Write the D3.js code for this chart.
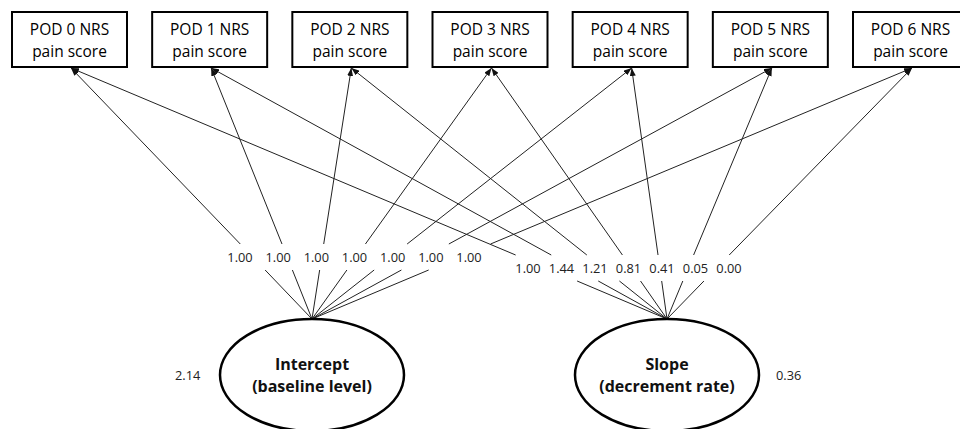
<!DOCTYPE html>
<html>
<head>
<meta charset="utf-8">
<script src="https://cdn.jsdelivr.net/npm/d3@7"></script>
<style>
	body { margin: 0; background: #fff; }
	svg { display: block; font-family: 'Open Sans', sans-serif; }
	.box { fill: #fff; stroke: #000; stroke-width: 2; }
	.obs { font-size: 15.5px; fill: #000; }
	.path { stroke: #222; stroke-width: 1; fill: none; }
	.load { font-size: 12.8px; fill: #222; }
	.lat { fill: #fff; stroke: #000; stroke-width: 2.5; }
	.latname { font-size: 16px; font-weight: bold; fill: #111; }
	.var { font-size: 12.8px; fill: #222; }
</style>
</head>
<body>
<div id="chart"></div>
<script>
'use strict';

// observed variables (top row)
const timepoints = ['POD 0', 'POD 1', 'POD 2', 'POD 3', 'POD 4', 'POD 5', 'POD 6'];
const obsLine2 = 'pain score';

// latent factors
const factors = ['Intercept', 'Slope'];
const factorSub = ['(baseline level)', '(decrement rate)'];
const factorVar = ['2.14', '0.36'];

// factor loadings per time point
const interceptLoadings = [1.00, 1.00, 1.00, 1.00, 1.00, 1.00, 1.00];
const slopeLoadings = [1.00, 1.44, 1.21, 0.81, 0.41, 0.05, 0.00];

const W = 960, H = 429;
let svg = d3.select('#chart').append('svg')
	.attr('width', W)
	.attr('height', H)
	;

svg.append('defs')
	.append('marker')
	.attr('id', 'arrowhead').attr('markerUnits', 'userSpaceOnUse')
	.attr('markerWidth', 8).attr('markerHeight', 6).attr('refX', 8).attr('refY', 3).attr('orient', 'auto')
	.append('polygon').attr('points', '0 0, 8 3, 0 6').attr('fill', '#111')
	;

let xBox = d3.scalePoint().domain(timepoints).range([71, 912]);
let boxW = 115, boxTop = 12, boxBot = 67;

let xLat = d3.scalePoint().domain(factors).range([312, 667]);
let latCy = 375, latRx = 92, latRy = 56;
let latTop = latCy - latRy;

// label rows, one for each factor
let labelY = [257, 268];
let labelX = [
	d3.scalePoint().domain(timepoints).range([240, 469]),
	d3.scalePoint().domain(timepoints).range([528, 729])
];
let loadings = [interceptLoadings, slopeLoadings];
let fmt = d3.format('.2f');

let paths = svg.append('g').classed('paths', true);
let labels = svg.append('g').classed('labels', true);

for (let f=0 ; f<factors.length ; ++f) {
	let x0 = xLat(factors[f]);
	let y0 = latTop;
	let gapLo = labelY[f] + 13;
	let gapHi = labelY[f] - 13;
	for (let i=0 ; i<timepoints.length ; ++i) {
		let x1 = xBox(timepoints[i]);
		let y1 = boxBot;
		let at = function(y) { return x0 + (x1 - x0)*(y0 - y)/(y0 - y1); };
		paths.append('line')
			.classed('path', true)
			.attr('x1', x0).attr('y1', y0)
			.attr('x2', at(gapLo)).attr('y2', gapLo)
			;
		paths.append('line')
			.classed('path', true)
			.attr('x1', at(gapHi)).attr('y1', gapHi)
			.attr('x2', x1).attr('y2', y1 + 1)
			.attr('marker-end', 'url(#arrowhead)')
			;
		labels.append('text')
			.classed('load', true)
			.attr('x', labelX[f](timepoints[i]))
			.attr('y', labelY[f] + 4.5)
			.attr('text-anchor', 'middle')
			.text(fmt(loadings[f][i]))
			;
	}
}

// observed boxes
let boxes = svg.append('g').classed('boxes', true);
for (let i=0 ; i<timepoints.length ; ++i) {
	let cx = xBox(timepoints[i]);
	let g = boxes.append('g');
	g.append('rect')
		.classed('box', true)
		.attr('x', cx - 59)
		.attr('y', boxTop)
		.attr('width', boxW)
		.attr('height', boxBot - boxTop)
		;
	g.append('text').classed('obs', true)
		.attr('x', cx - 1.5).attr('y', 35)
		.attr('text-anchor', 'middle')
		.text(timepoints[i] + ' NRS');
	g.append('text').classed('obs', true)
		.attr('x', cx - 1.5).attr('y', 57)
		.attr('text-anchor', 'middle')
		.text(obsLine2);
}

// latent ellipses
let lats = svg.append('g').classed('latents', true);
for (let f=0 ; f<factors.length ; ++f) {
	let cx = xLat(factors[f]);
	lats.append('ellipse')
		.classed('lat', true)
		.attr('cx', cx).attr('cy', latCy)
		.attr('rx', latRx).attr('ry', latRy)
		;
	lats.append('text').classed('latname', true)
		.attr('x', cx).attr('y', 370)
		.attr('text-anchor', 'middle')
		.text(factors[f]);
	lats.append('text').classed('latname', true)
		.attr('x', cx).attr('y', 392)
		.attr('text-anchor', 'middle')
		.text(factorSub[f]);
	let vx = f === 0 ? cx - latRx - 45 : cx + latRx + 17;
	lats.append('text').classed('var', true)
		.attr('x', vx).attr('y', 380)
		.text(factorVar[f]);
}
</script>
</body>
</html>
